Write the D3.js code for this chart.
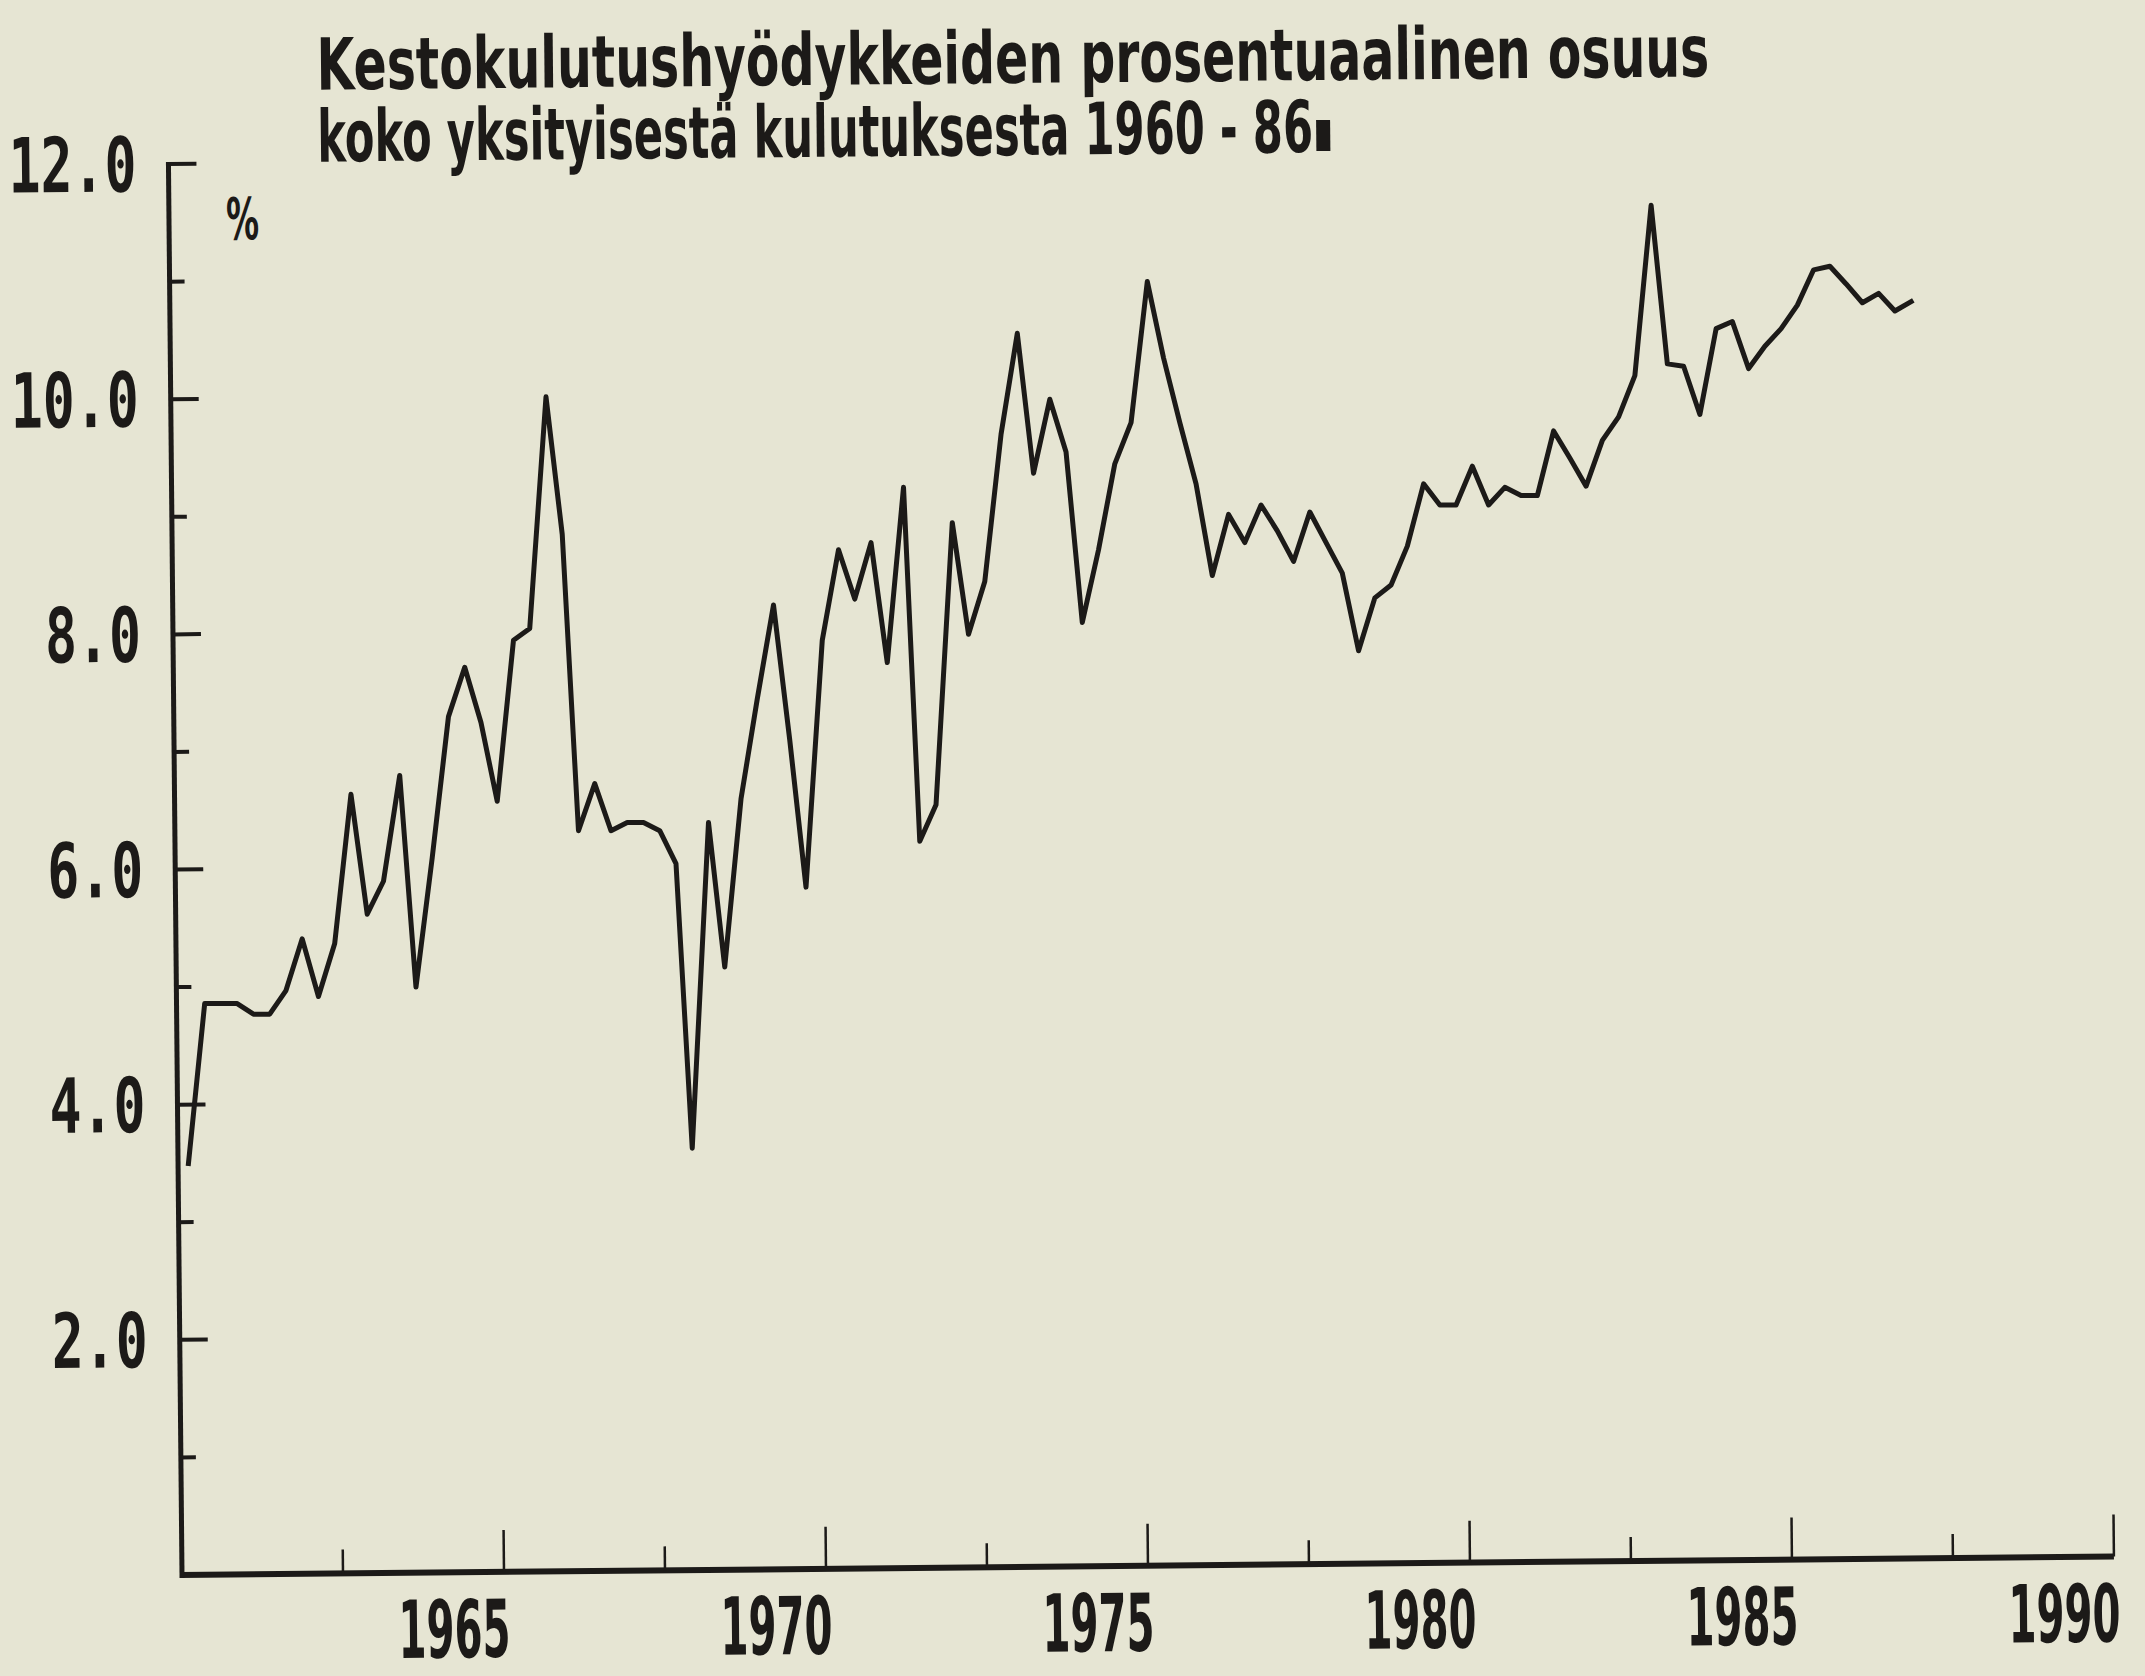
<!DOCTYPE html>
<html>
<head>
<meta charset="utf-8">
<script src="https://cdn.jsdelivr.net/npm/d3@7"></script>
<style>
  html, body { margin: 0; padding: 0; background: #e6e5d3; }
  svg { display: block; }
</style>
</head>
<body>
<svg id="chart"></svg>
<script>
const titleLines = ["Kestokulutushyödykkeiden prosentuaalinen osuus",
                    "koko yksityisestä kulutuksesta 1960 - 86"];
const unitLabel = "%";

// axis ticks: every 1 % on y, every 2.5 years on x
const yTicks = [0, 1, 2, 3, 4, 5, 6, 7, 8, 9, 10, 11, 12];
const yLabels = [2, 4, 6, 8, 10, 12];
const xTicks = [1962.5, 1965, 1967.5, 1970, 1972.5, 1975, 1977.5, 1980, 1982.5, 1985, 1987.5, 1990];
const xLabels = [1965, 1970, 1975, 1980, 1985, 1990];

// quarterly series, first and last point as they sit on the time axis
const firstQuarter = 1960.1,
      lastQuarter = 1986.85;

// share of durable goods in total private consumption, %
const shares = [
    3.5, 4.86, 4.86, 4.86, 4.77, 4.77, 4.97, 5.41,   // 1960-61
    4.92, 5.37, 6.64, 5.62, 5.9, 6.8, 5.0, 6.1,      // 1962-63
    7.3, 7.72, 7.25, 6.58, 7.95, 8.05, 10.02, 8.85,  // 1964-65
    6.33, 6.73, 6.33, 6.4, 6.4, 6.33, 6.05, 3.63,    // 1966-67
    6.4, 5.17, 6.6, 7.45, 8.25, 7.1, 5.85, 7.95,     // 1968-69
    8.72, 8.3, 8.78, 7.76, 9.25, 6.24, 6.55, 8.95,   // 1970-71
    8.0, 8.45, 9.7, 10.56, 9.37, 10.0, 9.55, 8.1,    // 1972-73
    8.72, 9.45, 9.8, 11.0, 10.35, 9.8, 9.28, 8.5,    // 1974-75
    9.02, 8.78, 9.1, 8.88, 8.62, 9.04, 8.78, 8.52,   // 1976-77
    7.86, 8.31, 8.42, 8.75, 9.28, 9.1, 9.1, 9.43,    // 1978-79
    9.1, 9.25, 9.18, 9.18, 9.73, 9.5, 9.26, 9.65,    // 1980-81
    9.85, 10.2, 11.65, 10.3, 10.28, 9.87, 10.6, 10.66, // 1982-83
    10.26, 10.45, 10.6, 10.8, 11.1, 11.13, 10.98, 10.82, // 1984-85
    10.9, 10.75, 10.83                               // 1986
];

const W = 2145, H = 1676;
const ink = "#1c1a18";

function squeeze(sel, px, py, width) {
    // narrow a text to the given width, like the condensed printer font
    sel.each(function(d, i) {
        let w = this.getComputedTextLength();
        let tx = typeof px == "function" ? px(d, i) : px,
            ty = typeof py == "function" ? py(d, i) : py,
            tw = typeof width == "function" ? width(d, i) : width;
        d3.select(this)
            .attr("transform", "translate(" + tx + "," + ty + ") scale(" + (tw / w) + ",1)");
    });
}

let svg = d3.select("#chart")
    .attr("width", W)
    .attr("height", H);

svg.append("rect")
    .attr("width", W)
    .attr("height", H)
    .attr("fill", "#e6e5d3");

let x = d3.scaleLinear()
    .domain([1960, 1990])
    .range([182, 2114]);

let y = d3.scaleLinear()
    .domain([0, 12])
    .range([1575, 164]);

let xi = d3.scaleLinear()
    .domain([0, shares.length - 1])
    .range([firstQuarter, lastQuarter]);

// the scanned sheet sits slightly askew: frame and texts are turned a little
let g = svg.append("g")
    .attr("transform", "rotate(-0.55," + x(1960) + "," + y(0) + ")");

// title
g.selectAll(".title")
    .data(titleLines)
    .enter()
    .append("text")
    .attr("class", "title")
    .style("font-family", "DejaVu Sans")
    .style("font-weight", "bold")
    .style("font-size", "72px")
    .attr("fill", ink)
    .text(d => d)
    .call(squeeze, 331, (d, i) => 91 + i * 72, (d, i) => i == 0 ? 1393 : 996);

// cursor block left after the title
g.append("rect")
    .attr("x", 1330)
    .attr("y", 131)
    .attr("width", 14)
    .attr("height", 31)
    .attr("fill", ink);

g.append("text")
    .style("font-family", "DejaVu Sans")
    .style("font-weight", "bold")
    .style("font-size", "58px")
    .attr("fill", ink)
    .text(unitLabel)
    .call(squeeze, 239, 240, 33);

// y axis
g.append("line")
    .attr("x1", x(1960))
    .attr("x2", x(1960))
    .attr("y1", y(0) + 3)
    .attr("y2", y(12) - 2)
    .attr("stroke", ink)
    .attr("stroke-width", 5);

g.selectAll(".ytick")
    .data(yTicks.filter(d => d > 0))
    .enter()
    .append("line")
    .attr("class", "ytick")
    .attr("x1", x(1960))
    .attr("x2", d => x(1960) + (d % 2 == 0 ? 28 : 15))
    .attr("y1", d => y(d))
    .attr("y2", d => y(d))
    .attr("stroke", ink)
    .attr("stroke-width", 4);

g.selectAll(".ylabel")
    .data(yLabels)
    .enter()
    .append("text")
    .attr("class", "ylabel")
    .attr("text-anchor", "end")
    .style("font-family", "DejaVu Sans Mono")
    .style("font-weight", "bold")
    .style("font-size", "76px")
    .attr("fill", ink)
    .text(d => d.toFixed(1))
    .call(squeeze, x(1960) - 32, d => y(d) + 27, d => d.toFixed(1).length * 32);

// x axis
g.append("line")
    .attr("x1", x(1960) - 2)
    .attr("x2", x(1990))
    .attr("y1", y(0))
    .attr("y2", y(0))
    .attr("stroke", ink)
    .attr("stroke-width", 6);

g.selectAll(".xtick")
    .data(xTicks)
    .enter()
    .append("line")
    .attr("class", "xtick")
    .attr("x1", d => x(d))
    .attr("x2", d => x(d))
    .attr("y1", y(0))
    .attr("y2", d => y(0) - (d % 5 == 0 ? 42 : 24))
    .attr("stroke", ink)
    .attr("stroke-width", 2.5);

g.selectAll(".xlabel")
    .data(xLabels)
    .enter()
    .append("text")
    .attr("class", "xlabel")
    .attr("text-anchor", "middle")
    .style("font-family", "DejaVu Sans")
    .style("font-weight", "bold")
    .style("font-size", "80px")
    .attr("fill", ink)
    .text(d => d)
    .call(squeeze, d => x(d) - 50, y(0) + 85, 112);

// the series
let line = d3.line()
    .x((d, i) => x(xi(i)))
    .y(d => y(d));

svg.append("path")
    .datum(shares)
    .attr("fill", "none")
    .attr("stroke", ink)
    .attr("stroke-width", 5)
    .attr("stroke-linejoin", "round")
    .attr("stroke-linecap", "square")
    .attr("d", line);
</script>
</body>
</html>
